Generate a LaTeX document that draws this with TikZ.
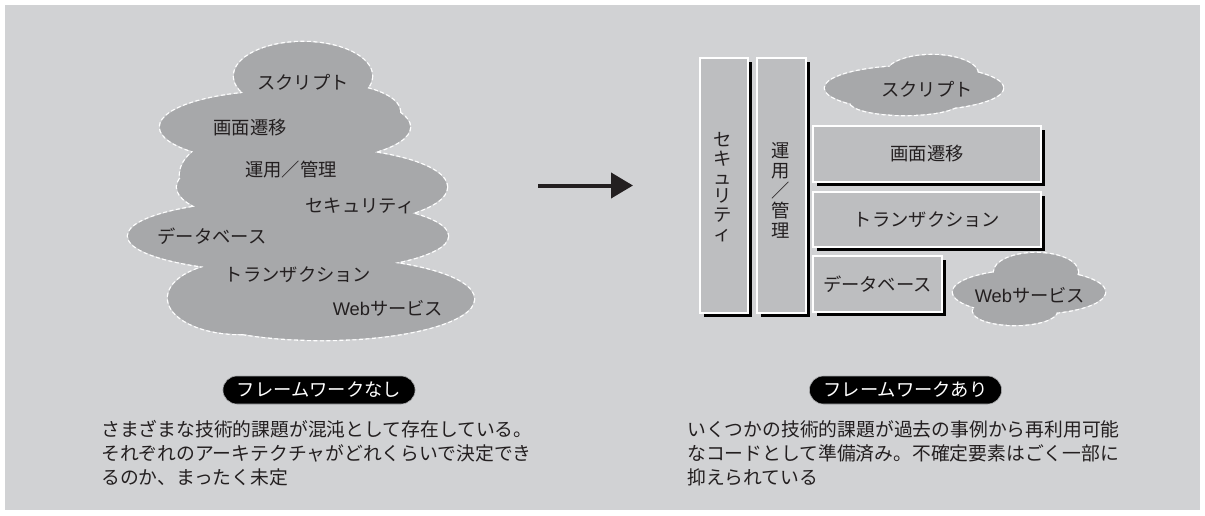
\documentclass[tikz,border=0pt]{standalone}
\usepackage{fontspec}
\setmainfont{Noto Sans CJK JP}
\newfontfamily\latfont{Liberation Sans}
\usetikzlibrary{arrows.meta,shadows}
\definecolor{bggray}{HTML}{D1D2D4}
\definecolor{cloudgray}{HTML}{A7A8AA}
\definecolor{boxgray}{HTML}{BDBEC0}
\definecolor{txt}{HTML}{231F20}
\newcommand\leftcloudshape{
  (303,76) ellipse [x radius=69,y radius=34]
  (285,127) ellipse [x radius=125,y radius=36]
  (312,187) ellipse [x radius=135,y radius=39]
  (288,236) ellipse [x radius=160,y radius=36]
  (322,299) ellipse [x radius=152,y radius=41]
  (240,298) ellipse [x radius=72,y radius=36]
  (330,112) ellipse [x radius=70,y radius=28]
  (250,175) ellipse [x radius=70,y radius=40]
}
\newcommand\scriptcloudshape{
  (914,88) ellipse [x radius=89,y radius=22]
  (932,74) ellipse [x radius=46,y radius=19]
  (905,102) ellipse [x radius=55,y radius=13]
}
\newcommand\webcloudshape{
  (1029,292) ellipse [x radius=76,y radius=22]
  (1036,272) ellipse [x radius=42,y radius=19]
  (1015,311) ellipse [x radius=42,y radius=14]
}
\tikzset{
  cloudedge/.style={draw=white,line width=2.6pt,dash pattern=on 4pt off 2.5pt},
  cloudfill/.style={fill=cloudgray},
  lbl/.style={font=\fontsize{18.3}{22}\selectfont,text=txt,inner sep=0pt},
  vlbl/.style={lbl,align=center},
  blockbox/.style={fill=boxgray,draw=white,line width=1.2pt,inner sep=0pt,
    drop shadow={shadow xshift=3.8pt,shadow yshift=-3.8pt,fill=black,opacity=1}},
  pill/.style={fill=black,draw=cloudgray,line width=0.6pt,rounded corners=14pt,text=white,
    font=\fontsize{18.3}{22}\selectfont,minimum height=28pt,inner xsep=14pt,inner ysep=0pt},
  desc/.style={font=\fontsize{18.8}{24}\selectfont,text=txt,align=left,inner sep=0pt,anchor=north west},
  bigarrow/.style={line width=4pt,-{Triangle[length=22pt,width=25pt]},draw=txt}
}
\begin{document}
\begin{tikzpicture}[x=1pt,y=-1pt]
\useasboundingbox (0,0) rectangle (1205,515);
\fill[white] (0,0) rectangle (1205,515);
\fill[bggray] (5,5) rectangle (1200,510);

% left cloud
\path[cloudedge] \leftcloudshape;
\path[cloudfill] \leftcloudshape;
\node[lbl] (l1) at (303,82) {スクリプト};
\node[lbl] (l2) at (250,128) {画面遷移};
\node[lbl] (l3) at (291,170) {運用／管理};
\node[lbl] (l4) at (360,206) {セキュリティ};
\node[lbl] (l5) at (212,236) {データベース};
\node[lbl] (l6) at (298,275) {トランザクション};
\node[lbl] (l7) at (388,308) {{\latfont Web}サービス};

% arrow
\coordinate (as) at (538,185.5);
\coordinate (ae) at (633,185.5);
\draw[bigarrow] (as) -- (ae);

% right side blocks
\node[blockbox,minimum width=48pt,minimum height=255pt] (sec) at (724,185.5) {};
\node[blockbox,minimum width=49pt,minimum height=255pt] (ops) at (781.5,185.5) {};
\node[blockbox,minimum width=228pt,minimum height=56pt] (gam) at (927,154) {};
\node[blockbox,minimum width=228pt,minimum height=55pt] (trn) at (927,219.5) {};
\node[blockbox,minimum width=129pt,minimum height=56pt] (dbs) at (877.5,284) {};
\node[vlbl,font=\fontsize{18.3}{18.7}\selectfont] (sect) at (723,187) {セ\\キ\\ュ\\リ\\テ\\ィ};
\node[vlbl,font=\fontsize{18.3}{20}\selectfont] (opst) at (781,190) {運\\用\\／\\管\\理};
\node[lbl] (gamt) at (gam) {画面遷移};
\node[lbl] (trnt) at (trn) {トランザクション};
\node[lbl] (dbst) at (dbs) {データベース};

% right clouds
\path[cloudedge] \scriptcloudshape;
\path[cloudfill] \scriptcloudshape;
\node[lbl] (r1) at (927,89) {スクリプト};
\path[cloudedge] \webcloudshape;
\path[cloudfill] \webcloudshape;
\node[lbl] (r7) at (1030,295) {{\latfont Web}サービス};

% pills
\node[pill] (p1) at (319,390) {フレームワークなし};
\node[pill] (p2) at (905.5,390) {フレームワークあり};

% descriptions
\node[desc] (d1) at (101,420) {さまざまな技術的課題が混沌として存在している。\\それぞれのアーキテクチャがどれくらいで決定でき\\るのか、まったく未定};
\node[desc] (d2) at (687,420) {いくつかの技術的課題が過去の事例から再利用可能\\なコードとして準備済み。不確定要素はごく一部に\\抑えられている};
\end{tikzpicture}
\end{document}
